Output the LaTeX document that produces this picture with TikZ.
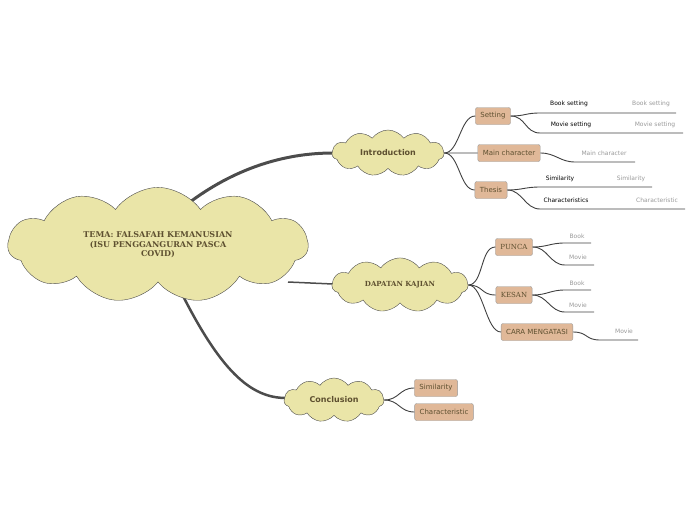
\documentclass[tikz,border=0pt]{standalone}
\usepackage{fontspec}
\setmainfont{DejaVu Serif}
\setsansfont{DejaVu Sans}
\usetikzlibrary{shapes.symbols,calc}
\definecolor{cl}{HTML}{EAE5A8}
\definecolor{bx}{HTML}{E0B898}
\definecolor{tx}{HTML}{5E5030}
\tikzset{x=1pt,y=-1pt,
cloudn/.style={cloud,cloud puffs=11,cloud puff arc=110,aspect=2.4,draw=black!70,fill=cl,text=tx,font=\bfseries,inner sep=0pt,align=center},
bxn/.style={draw=black!40,fill=bx,rounded corners=2pt,text=tx,font=\sffamily\fontsize{7}{8}\selectfont,minimum height=17pt,inner xsep=5pt},
thick link/.style={line width=3pt,black!70},
lk/.style={black!75,line width=0.9pt},
lf/.style={font=\sffamily\fontsize{6}{7}\selectfont},
gr/.style={lf,text=black!40}}
\begin{document}
\begin{tikzpicture}
\useasboundingbox (0,0) rectangle (696,520);
\draw[thick link] (190,202) .. controls (240,165) and (290,153) .. (333,153);
\draw[thick link,line width=1.5pt] (288,282) -- (333,284);
\draw[thick link,line width=2.5pt] (180,290) .. controls (220,370) and (250,398) .. (286,398);
\node[cloudn,minimum width=300pt,minimum height=105pt,font=\bfseries\fontsize{8}{9.5}\selectfont] (main) at (158,245) {TEMA: FALSAFAH KEMANUSIAN\\(ISU PENGGANGURAN PASCA\\COVID)};
\node[cloudn,minimum width=112pt,minimum height=46pt,font=\sffamily\bfseries\fontsize{8}{9}\selectfont] (intro) at (388,153) {Introduction};
\node[cloudn,minimum width=136pt,minimum height=44pt,font=\bfseries\fontsize{7}{9}\selectfont] (dk) at (400,285) {DAPATAN KAJIAN};
\node[cloudn,minimum width=100pt,minimum height=44pt,font=\sffamily\bfseries\fontsize{8}{9}\selectfont] (conc) at (334,400) {Conclusion};
\node[bxn] (set) at (493,116) {Setting};
\node[bxn] (mc) at (509,153) {Main character};
\node[bxn] (th) at (491,190) {Thesis};
\node[bxn,font=\fontsize{7}{8}\selectfont] (pu) at (514,247) {PUNCA};
\node[bxn,font=\fontsize{7}{8}\selectfont] (ke) at (514,295) {KESAN};
\node[bxn] (cm) at (537,332) {CARA MENGATASI};
\node[bxn] (si) at (436,388) {Similarity};
\node[bxn] (ch) at (444,412) {Characteristic};
\foreach \a/\b in {intro/set,intro/mc,intro/th,dk/pu,dk/ke,dk/cm,conc/si,conc/ch}
  \draw[lk] (\a.east) .. controls ($(\a.east)+(15,0)$) and ($(\b.west)+(-15,0)$) .. (\b.west);
% leaves
\coordinate (b1) at (540,113); \coordinate (b1e) at (676,113);
\coordinate (b2) at (540,133); \coordinate (b2e) at (683,133);
\coordinate (m1) at (575,162); \coordinate (m1e) at (635,162);
\coordinate (t1) at (540,187); \coordinate (t1e) at (652,187);
\coordinate (t2) at (540,209); \coordinate (t2e) at (685,209);
\coordinate (p1) at (565,243); \coordinate (p1e) at (591,243);
\coordinate (p2) at (565,265); \coordinate (p2e) at (594,265);
\coordinate (k1) at (565,290); \coordinate (k1e) at (591,290);
\coordinate (k2) at (565,312); \coordinate (k2e) at (594,312);
\coordinate (c1) at (600,340); \coordinate (c1e) at (638,340);
\foreach \a/\b in {set/b1,set/b2,mc/m1,th/t1,th/t2,pu/p1,pu/p2,ke/k1,ke/k2,cm/c1}{
  \draw[lk] (\a.east) .. controls ($(\a.east)+(15,0)$) and ($(\b)+(-15,0)$) .. (\b) -- (\b e);}
\node[lf] (l1) at (569,104) {Book setting};
\node[gr] (g1) at (651,104) {Book setting};
\node[lf] (l2) at (571,125) {Movie setting};
\node[gr] (g2) at (655,125) {Movie setting};
\node[gr] (g3) at (604,153) {Main character};
\node[lf] (l4) at (560,179) {Similarity};
\node[gr] (g4) at (631,179) {Similarity};
\node[lf] (l5) at (566,200) {Characteristics};
\node[gr] (g5) at (657,200) {Characteristic};
\node[gr] (g6) at (577,236) {Book};
\node[gr] (g7) at (578,257) {Movie};
\node[gr] (g8) at (577,283) {Book};
\node[gr] (g9) at (578,305) {Movie};
\node[gr] (g10) at (624,331) {Movie};
\end{tikzpicture}
\end{document}
